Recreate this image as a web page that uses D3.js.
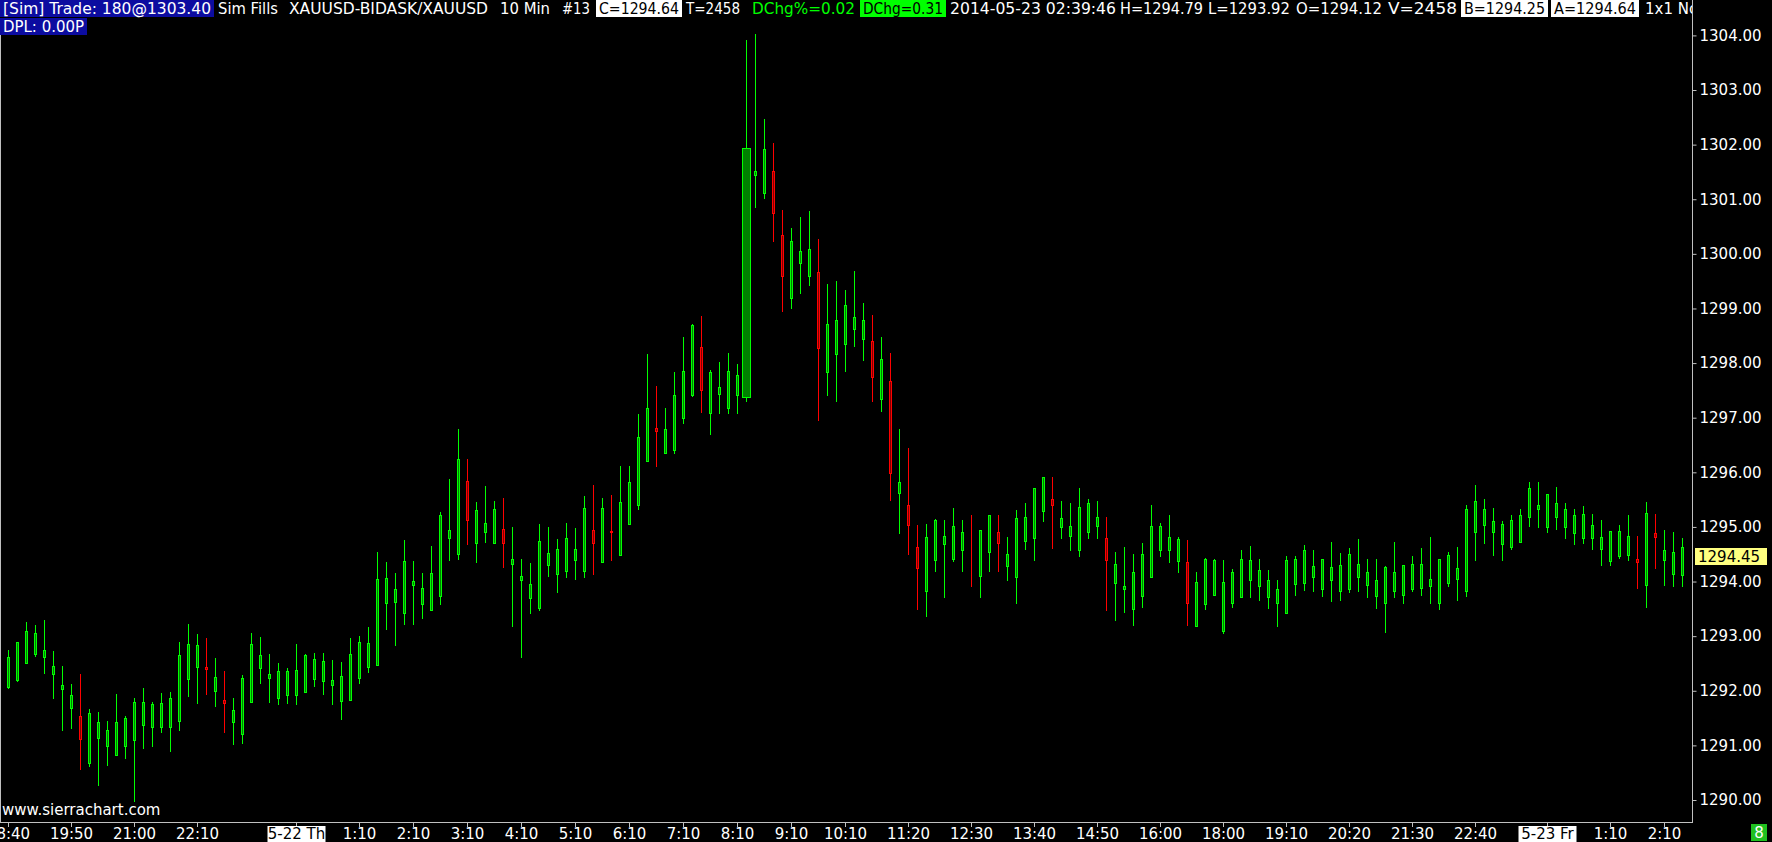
<!DOCTYPE html>
<html>
<head>
<meta charset="utf-8">
<script src="https://cdnjs.cloudflare.com/ajax/libs/d3/7.8.5/d3.min.js"></script>
<style>
  body { margin: 0; background: #000; }
  svg { display: block; }
  text { font-family: "DejaVu Sans", Verdana, sans-serif; }
</style>
</head>
<body>
<svg width="1772" height="842"></svg>
<script>
// XAUUSD 10 min bars, 5-21 18:40 .. 5-23 02:30
var opens = [
  1292.06,1292.19,1292.51,1292.68,1292.62,1292.31,1292.04,1291.69,1291.54,1290.67,
  1291.14,1290.98,1290.83,1290.98,1291.10,1291.38,1291.34,1291.34,1291.34,1291.45,
  1292.22,1292.44,1292.44,1292.00,1291.83,1291.43,1291.21,1291.80,1292.42,1292.24,
  1291.87,1291.93,1291.93,1291.97,1292.22,1292.17,1292.11,1291.82,1291.84,1292.24,
  1292.44,1292.48,1293.61,1293.63,1293.43,1293.94,1293.58,1293.47,1293.74,1294.80,
  1294.51,1295.84,1294.71,1294.91,1294.71,1294.96,1294.33,1294.02,1293.69,1293.52,
  1294.31,1294.13,1294.20,1294.40,1294.20,1294.94,1294.36,1294.93,1294.49,1295.06,
  1295.41,1296.21,1296.81,1296.36,1296.40,1297.00,1297.42,1298.30,1297.09,1297.44,
  1297.18,1297.42,1297.37,1301.45,1301.11,1301.52,1300.35,1299.20,1299.84,1299.60,
  1299.67,1297.84,1298.17,1298.35,1298.63,1298.45,1298.41,1297.34,1297.67,1295.63,
  1295.40,1294.63,1293.82,1294.40,1294.69,1294.42,1294.58,1294.51,1294.10,1294.55,
  1294.91,1294.29,1294.09,1294.75,1294.79,1295.29,1295.51,1294.99,1294.84,1294.58,
  1294.91,1295.01,1294.79,1293.98,1293.87,1293.49,1293.74,1294.09,1294.58,1294.58,
  1294.38,1294.35,1293.19,1293.58,1293.76,1293.10,1293.60,1293.71,1294.02,1293.91,
  1293.72,1293.60,1293.43,1293.96,1293.98,1294.09,1293.87,1294.02,1293.83,1293.87,
  1294.08,1293.94,1293.74,1293.60,1293.83,1293.76,1293.87,1293.89,1293.91,1293.60,
  1293.98,1294.04,1293.83,1294.90,1295.04,1294.90,1294.68,1294.64,1294.73,1295.19,
  1295.32,1294.99,1295.19,1294.99,1294.88,1294.79,1294.79,1294.60,1294.38,1294.47,
  1294.49,1294.41,1293.93,1294.88,1294.40,1294.14,1294.12
];
var highs = [
  1292.75,1292.90,1293.26,1293.20,1293.30,1292.73,1292.45,1292.12,1292.31,1291.67,
  1291.61,1291.45,1291.94,1291.54,1291.87,1292.05,1291.79,1291.96,1291.98,1292.89,
  1293.22,1293.04,1292.97,1292.60,1292.36,1291.87,1292.29,1293.06,1292.98,1292.67,
  1292.51,1292.42,1292.86,1292.67,1292.69,1292.69,1292.56,1292.53,1292.97,1293.00,
  1293.17,1294.54,1294.36,1294.16,1294.76,1294.38,1294.16,1294.65,1295.27,1295.88,
  1296.79,1296.24,1295.46,1295.75,1295.47,1295.53,1295.00,1294.41,1294.34,1295.05,
  1295.00,1294.78,1295.07,1294.98,1295.57,1295.77,1295.53,1295.58,1296.12,1296.12,
  1297.07,1298.17,1297.58,1297.18,1297.84,1298.48,1298.72,1298.86,1297.87,1298.02,
  1298.18,1297.99,1303.92,1304.02,1302.47,1302.03,1300.80,1300.48,1300.67,1300.79,
  1300.27,1299.45,1299.51,1299.34,1299.69,1299.10,1298.88,1298.48,1298.18,1296.79,
  1296.44,1295.03,1295.05,1295.15,1295.13,1295.34,1295.13,1295.22,1294.94,1295.22,
  1295.22,1294.81,1295.31,1295.44,1295.71,1295.91,1295.91,1295.48,1295.44,1295.71,
  1295.51,1295.48,1295.18,1294.54,1294.63,1294.50,1294.71,1295.40,1295.07,1295.22,
  1294.82,1294.76,1294.17,1294.43,1294.41,1294.39,1294.23,1294.58,1294.65,1294.41,
  1294.21,1294.03,1294.47,1294.47,1294.67,1294.58,1294.41,1294.72,1294.52,1294.61,
  1294.78,1294.41,1294.41,1294.28,1294.72,1294.30,1294.46,1294.61,1294.82,1294.41,
  1294.54,1294.63,1295.40,1295.77,1295.51,1295.35,1295.10,1295.22,1295.32,1295.82,
  1295.82,1295.60,1295.73,1295.44,1295.32,1295.38,1295.24,1295.13,1294.93,1295.04,
  1295.22,1294.83,1295.46,1295.24,1294.94,1294.91,1294.79
];
var lows = [
  1292.05,1292.18,1292.51,1292.64,1292.33,1291.86,1291.29,1291.31,1290.57,1290.63,
  1290.28,1290.65,1290.83,1290.76,1289.99,1290.96,1290.99,1291.25,1290.89,1291.29,
  1291.91,1291.78,1291.95,1291.73,1291.25,1291.03,1291.05,1291.80,1292.15,1291.80,
  1291.75,1291.78,1291.76,1291.97,1292.08,1291.95,1291.75,1291.49,1291.84,1292.15,
  1292.35,1292.48,1293.14,1292.84,1293.23,1293.23,1293.34,1293.47,1293.59,1294.40,
  1294.42,1294.68,1294.35,1294.73,1294.71,1294.27,1293.19,1292.61,1293.43,1293.48,
  1294.11,1293.81,1294.09,1294.05,1294.09,1294.14,1294.35,1294.40,1294.49,1295.06,
  1295.32,1296.21,1296.12,1296.36,1296.36,1296.91,1297.40,1297.11,1296.71,1297.09,
  1297.09,1297.09,1297.31,1300.86,1301.03,1300.24,1298.96,1299.01,1299.29,1299.43,
  1296.95,1297.41,1297.30,1297.86,1298.32,1298.06,1297.30,1297.13,1295.50,1294.88,
  1294.50,1293.49,1293.37,1294.20,1293.71,1294.38,1294.20,1293.92,1293.72,1294.20,
  1294.20,1294.02,1293.60,1294.60,1294.40,1295.10,1294.62,1294.80,1294.57,1294.47,
  1294.79,1294.80,1293.47,1293.30,1293.45,1293.21,1293.54,1294.09,1294.47,1294.36,
  1294.18,1293.21,1293.19,1293.50,1293.76,1293.05,1293.54,1293.71,1293.72,1293.67,
  1293.52,1293.19,1293.43,1293.76,1293.85,1293.82,1293.74,1293.65,1293.67,1293.80,
  1293.82,1293.71,1293.52,1293.08,1293.71,1293.61,1293.82,1293.76,1293.60,1293.49,
  1293.91,1293.67,1293.74,1294.40,1294.71,1294.49,1294.40,1294.59,1294.73,1295.02,
  1294.99,1294.90,1294.97,1294.80,1294.69,1294.71,1294.60,1294.31,1294.31,1294.44,
  1294.40,1293.89,1293.54,1294.25,1293.94,1293.91,1293.92
];
var closes = [
  1292.62,1292.89,1293.09,1293.05,1292.75,1292.45,1292.11,1291.92,1291.11,1291.59,
  1291.43,1291.28,1291.43,1291.50,1291.79,1291.79,1291.76,1291.78,1291.87,1292.66,
  1292.86,1292.84,1292.39,1292.25,1291.78,1291.65,1292.23,1292.86,1292.66,1292.31,
  1292.36,1292.36,1292.38,1292.66,1292.58,1292.55,1292.20,1292.27,1292.67,1292.89,
  1292.87,1294.05,1294.06,1293.86,1294.38,1294.01,1293.88,1294.16,1295.22,1294.94,
  1296.24,1295.13,1295.31,1295.07,1295.33,1294.71,1294.41,1294.10,1293.95,1294.74,
  1294.52,1294.60,1294.80,1294.60,1295.35,1294.71,1295.35,1294.90,1295.46,1295.82,
  1296.65,1297.18,1296.76,1296.79,1297.42,1297.86,1298.70,1297.51,1297.83,1297.56,
  1297.86,1297.78,1301.93,1301.52,1301.92,1300.74,1299.59,1300.24,1300.05,1300.09,
  1298.27,1298.72,1298.79,1299.06,1298.85,1298.79,1297.74,1298.07,1295.99,1295.82,
  1295.04,1294.24,1294.81,1295.13,1294.84,1295.02,1294.91,1294.50,1294.94,1295.22,
  1294.71,1294.50,1295.16,1295.19,1295.71,1295.91,1295.40,1295.16,1295.01,1295.37,
  1295.43,1295.19,1294.40,1294.32,1293.92,1294.17,1294.50,1295.01,1295.01,1294.81,
  1294.77,1293.61,1294.00,1294.41,1294.39,1294.00,1294.17,1294.41,1294.39,1294.21,
  1294.02,1293.86,1294.39,1294.41,1294.57,1294.28,1294.41,1294.26,1294.30,1294.50,
  1294.32,1294.17,1294.02,1294.26,1294.17,1294.30,1294.32,1294.32,1294.04,1294.41,
  1294.48,1294.24,1295.32,1295.47,1295.32,1295.10,1295.05,1295.12,1295.21,1295.71,
  1295.41,1295.60,1295.43,1295.32,1295.21,1295.23,1295.03,1294.81,1294.92,1294.92,
  1294.83,1294.35,1295.25,1294.82,1294.57,1294.55,1294.64
];

// time axis labels (bar index -> label), date labels get a white box
var timeTicks = [
  [0, "18:40"], [7, "19:50"], [14, "21:00"], [21, "22:10"], [32, "5-22 Th", 1],
  [39, "1:10"], [45, "2:10"], [51, "3:10"], [57, "4:10"], [63, "5:10"],
  [69, "6:10"], [75, "7:10"], [81, "8:10"], [87, "9:10"], [93, "10:10"],
  [100, "11:20"], [107, "12:30"], [114, "13:40"], [121, "14:50"], [128, "16:00"],
  [135, "18:00"], [142, "19:10"], [149, "20:20"], [156, "21:30"], [163, "22:40"],
  [171, "5-23 Fr", 1], [178, "1:10"], [184, "2:10"]
];
var priceTicks = d3.range(1290, 1305, 1);

// header strings
var headerLine1 = [
  { t: "[Sim] Trade: 180@1303.40", fg: "#fff", bg: "#0c0ca0" },
  { t: "Sim Fills", fg: "#fff" },
  { t: "XAUUSD-BIDASK/XAUUSD", fg: "#fff" },
  { t: "10 Min", fg: "#fff" },
  { t: "#13", fg: "#fff" },
  { t: "C=1294.64", fg: "#000", bg: "#fff" },
  { t: "T=2458", fg: "#fff" },
  { t: "DChg%=0.02", fg: "#00ff00" },
  { t: "DChg=0.31", fg: "#000", bg: "#00ff00" },
  { t: "2014-05-23 02:39:46", fg: "#fff" },
  { t: "H=1294.79", fg: "#fff" },
  { t: "L=1293.92", fg: "#fff" },
  { t: "O=1294.12", fg: "#fff" },
  { t: "V=2458", fg: "#fff" },
  { t: "B=1294.25", fg: "#000", bg: "#fff" },
  { t: "A=1294.64", fg: "#000", bg: "#fff" },
  { t: "1x1 None", fg: "#fff" }
];
var headerLine2 = [{ t: "DPL: 0.00P", fg: "#fff", bg: "#0c0ca0" }];

// where each header piece sits: [left, right] in px (right = null: natural width)
var headerSpans1 = [
  [0, 214], [218, 278], [289, 488], [500, 550], [562, 590], [596, 682],
  [686, 740], [752, 855], [860, 946], [950, 1116], [1120, 1203], [1208, 1290],
  [1296, 1382], [1388, 1457], [1461, 1548], [1551, 1639], [1645, null]
];
var headerSpans2 = [[0, 87]];

var lastLabel = 1294.45;
var wideBar = 82;   // the 8:20 bar is drawn with a wide body

var svg = d3.select("svg"),
    width = +svg.attr("width"),
    height = +svg.attr("height");

var axisX = 1692, axisY = 822;

var x = d3.scaleLinear().domain([0, opens.length - 1]).range([8.4, 1682.4]);
var y = d3.scaleLinear().domain([1290, 1304]).range([800, 35.4]);

svg.append("rect").attr("width", width).attr("height", height).attr("fill", "#000");

svg.append("clipPath").attr("id", "plotclip")
  .append("rect").attr("x", 0).attr("y", 0).attr("width", axisX).attr("height", axisY);

var plot = svg.append("g").attr("clip-path", "url(#plotclip)");

//--- candles ----//
var bars = opens.map((o, i) => ({ i: i, o: o, h: highs[i], l: lows[i], c: closes[i] }));
var px = d => Math.round(x(d.i)) + 0.5;
var up = d => d.c >= d.o;

plot.selectAll("line.wick")
  .data(bars)
  .join("line")
  .attr("class", "wick")
  .attr("x1", px).attr("x2", px)
  .attr("y1", d => Math.round(y(d.h)))
  .attr("y2", d => Math.round(y(d.l)) + 1)
  .attr("stroke", d => up(d) ? "#00ff00" : "#ff0000")
  .attr("stroke-width", 1);

plot.selectAll("rect.body")
  .data(bars)
  .join("rect")
  .attr("class", "body")
  .attr("x", d => px(d) - (d.i === wideBar ? 4 : 1))
  .attr("width", d => d.i === wideBar ? 8 : 2)
  .attr("y", d => Math.round(y(Math.max(d.o, d.c))) + 0.5)
  .attr("height", d => Math.round(y(Math.min(d.o, d.c))) - Math.round(y(Math.max(d.o, d.c))))
  .attr("fill", d => up(d) ? "#008000" : "#800000")
  .attr("stroke", d => up(d) ? "#00ff00" : "#ff0000")
  .attr("stroke-width", 1);

//--- frame ----//
var frame = "#c0c0c0";
svg.append("line").attr("x1", axisX + 0.5).attr("x2", axisX + 0.5).attr("y1", 0).attr("y2", axisY + 1)
  .attr("stroke", frame);
svg.append("line").attr("x1", 0).attr("x2", axisX + 1).attr("y1", axisY + 0.5).attr("y2", axisY + 0.5)
  .attr("stroke", frame);
svg.append("line").attr("x1", 0.5).attr("x2", 0.5).attr("y1", 35).attr("y2", axisY)
  .attr("stroke", frame);

//--- price axis ----//
var yAxis = svg.append("g")
  .attr("transform", "translate(" + (axisX + 0.5) + ",0)")
  .call(d3.axisRight(y).tickValues(priceTicks).tickFormat(d3.format(".2f")).tickSize(4).tickPadding(3));
yAxis.select(".domain").remove();
yAxis.selectAll(".tick line").attr("stroke", frame);
yAxis.selectAll(".tick text")
  .attr("fill", "#fff")
  .attr("font-size", "15px")
  .attr("font-family", "DejaVu Sans, sans-serif");

// current price box
var lbl = svg.append("g").attr("transform", "translate(" + (axisX + 3) + "," + Math.round(y(lastLabel)) + ")");
lbl.append("rect").attr("x", 0).attr("y", -9).attr("width", 72).attr("height", 17).attr("fill", "#ffff80");
lbl.append("text").attr("x", 3).attr("y", 5).attr("fill", "#000")
  .attr("font-size", "15px").text(d3.format(".2f")(lastLabel));

//--- time axis ----//
var xt = svg.append("g").selectAll("g")
  .data(timeTicks)
  .join("g")
  .attr("transform", d => "translate(" + px({ i: d[0] }) + "," + axisY + ")");

xt.append("line").attr("y1", 1).attr("y2", 5).attr("stroke", frame);
xt.filter(d => d[2]).append("rect")
  .attr("x", -29).attr("y", 4).attr("width", 58).attr("height", 16).attr("fill", "#fff");
xt.append("text")
  .attr("y", 17)
  .attr("text-anchor", "middle")
  .attr("font-size", "15px")
  .attr("fill", d => d[2] ? "#000" : "#fff")
  .text(d => d[1]);

//--- watermark ----//
svg.append("text").attr("x", 2).attr("y", 815)
  .attr("fill", "#fff").attr("font-size", "15px")
  .text("www.sierrachart.com");

//--- header ----//
svg.append("clipPath").attr("id", "hdrclip")
  .append("rect").attr("x", 0).attr("y", 0).attr("width", axisX).attr("height", 40);
var hdr = svg.append("g").attr("clip-path", "url(#hdrclip)");

function renderLine(items, spans, top) {
  items.forEach(function(it, k) {
    var x0 = spans[k][0], x1 = spans[k][1];
    var pad = it.bg ? 3 : 0;
    if (it.bg) {
      hdr.append("rect")
        .attr("x", x0).attr("y", top).attr("width", x1 - x0).attr("height", 17)
        .attr("fill", it.bg);
    }
    var t = hdr.append("text")
      .attr("x", x0 + pad).attr("y", top + 14)
      .attr("font-size", "15px")
      .attr("fill", it.fg)
      .text(it.t);
    if (x1 !== null) {
      t.attr("textLength", x1 - x0 - 2 * pad).attr("lengthAdjust", "spacingAndGlyphs");
    }
  });
}
renderLine(headerLine1, headerSpans1, 0);
renderLine(headerLine2, headerSpans2, 18);

// "8" status box
svg.append("rect").attr("x", 1751).attr("y", 824).attr("width", 16).attr("height", 17).attr("fill", "#20c020");
svg.append("text").attr("x", 1759).attr("y", 838).attr("text-anchor", "middle")
  .attr("fill", "#fff").attr("font-size", "15px").text("8");
</script>
</body>
</html>
